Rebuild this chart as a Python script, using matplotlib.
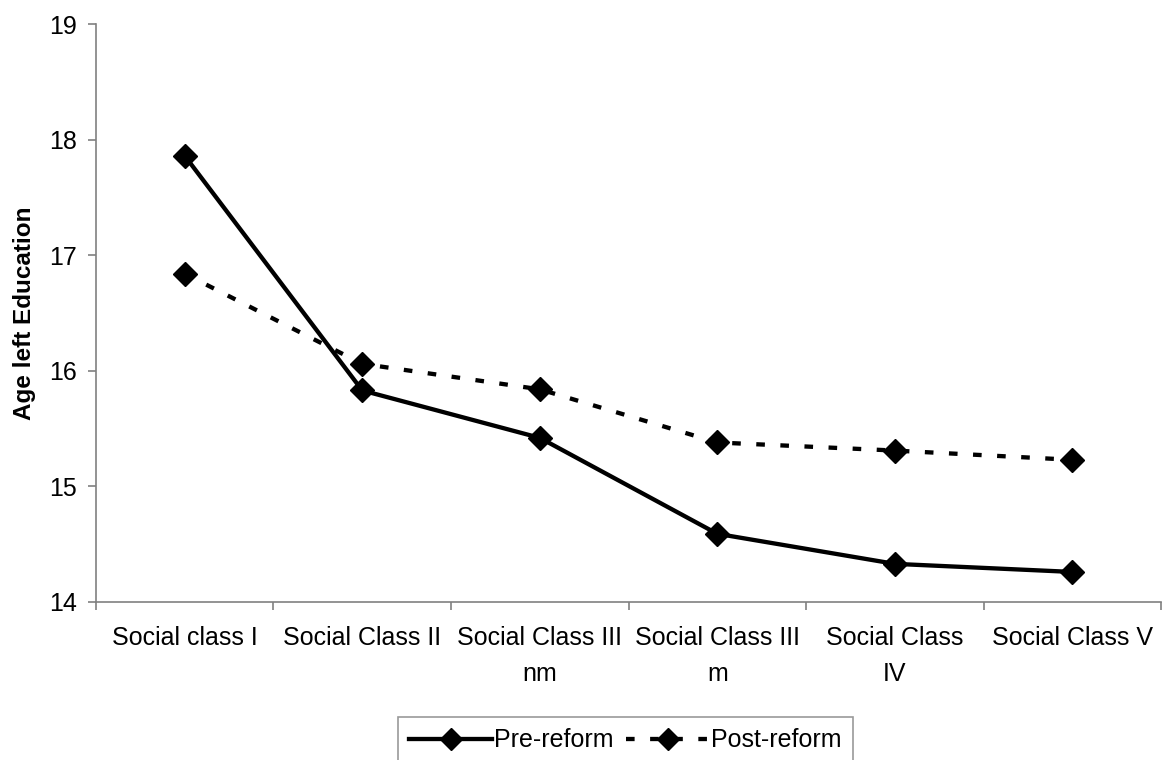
import numpy as np
import matplotlib.pyplot as plt
from matplotlib.lines import Line2D

plt.rcParams['font.family'] = ['Liberation Sans', 'DejaVu Sans']

classes = ['Social class I', 'Social Class II', 'Social Class III\nnm',
           'Social Class III\nm', 'Social Class\nIV', 'Social Class V']
pre_reform = [17.86, 15.83, 15.42, 14.59, 14.33, 14.26]
post_reform = [16.84, 16.06, 15.84, 15.38, 15.31, 15.23]

fig = plt.figure(figsize=(11.69, 7.60), dpi=100)
ax = fig.add_axes([0.0821, 0.2079, 0.9111, 0.7605])

x = np.arange(len(classes))
dash = (0, (2, 3.6))
lw = 3.1
ms = 12
ax.plot(x, pre_reform, color='k', lw=lw, marker='D', ms=ms,
        solid_joinstyle='miter', label='Pre-reform')
ax.plot(x, post_reform, color='k', lw=lw, ls=dash, marker='D', ms=ms,
        dash_capstyle='butt', label='Post-reform')

ax.set_xlim(-0.5, len(classes) - 0.5)
ax.set_ylim(14, 19)
ax.set_yticks(np.arange(14, 20, 1))

# category boundaries get the tick marks, the names sit between them
ax.set_xticks(np.arange(-0.5, len(classes), 1))
ax.set_xticklabels([])
ax.set_xticks(x, minor=True)
ax.set_xticklabels(classes, minor=True, fontsize=18, linespacing=1.65)
ax.tick_params(axis='x', which='minor', length=0, pad=17)
ax.tick_params(axis='x', which='major', length=6, width=1.2, color='#808080')
ax.tick_params(axis='y', length=6, width=1.2, color='#808080', labelsize=18, pad=8)

for side in ['top', 'right']:
    ax.spines[side].set_visible(False)
for side in ['left', 'bottom']:
    ax.spines[side].set_color('#808080')
    ax.spines[side].set_linewidth(1.2)

ax.set_ylabel('Age left Education', fontsize=17.5, fontweight='bold', labelpad=9)

handles = [
    Line2D([], [], color='k', lw=lw, marker='D', ms=ms - 1),
    Line2D([], [], color='k', lw=lw, ls=dash, marker='D', ms=ms - 1, dash_capstyle='butt'),
]
leg = fig.legend(handles, ['Pre-reform', 'Post-reform'], loc='upper left',
                 bbox_to_anchor=(398 / 1169, 1 - 717 / 760), ncol=2,
                 fontsize=18, frameon=True, fancybox=False, numpoints=1,
                 handlelength=3.3, handletextpad=0.1, columnspacing=0.5,
                 borderpad=0.45, borderaxespad=0)
leg.get_frame().set_edgecolor('#808080')
leg.get_frame().set_linewidth(1.2)

fig.savefig('out.png', dpi=100)
